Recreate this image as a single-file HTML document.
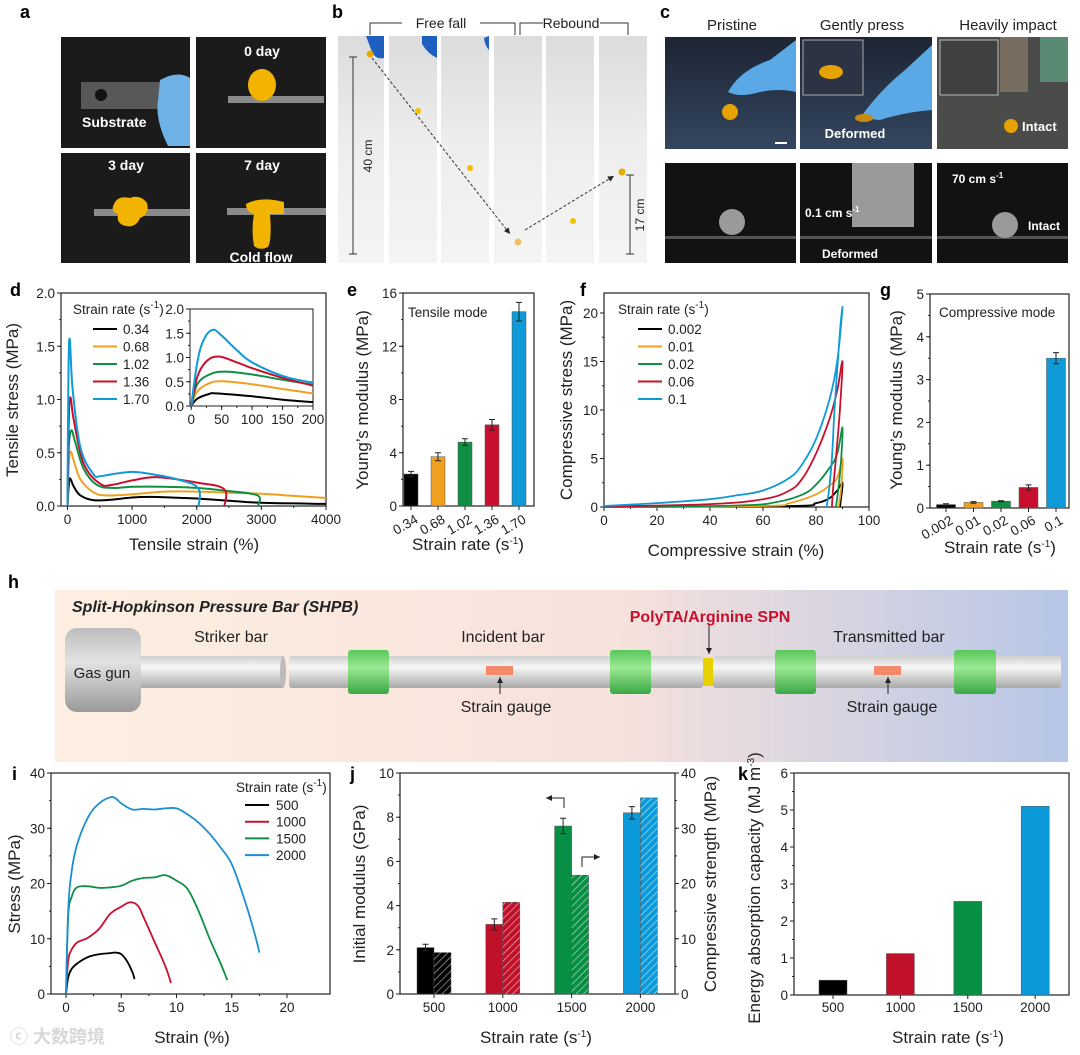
<!DOCTYPE html>
<html><head><meta charset="utf-8"><title>Figure</title>
<style>
html,body{margin:0;padding:0;background:#fff;}
svg{display:block;font-family:"Liberation Sans","Noto Sans CJK SC",sans-serif;}
.pl{font-weight:bold;font-size:18px;fill:#000;}
.tk{font-size:13.5px;fill:#222;}
.at{font-size:17px;fill:#222;}
.wt{font-weight:bold;fill:#fff;}
</style></head>
<body>
<svg id="fig" width="1080" height="1055" viewBox="0 0 1080 1055" xmlns="http://www.w3.org/2000/svg">
<defs>
 <linearGradient id="hbg" x1="0" x2="1" y1="0" y2="0">
  <stop offset="0" stop-color="#fcefe1"/><stop offset="0.55" stop-color="#f8e2dc"/><stop offset="1" stop-color="#b6c6e6"/>
 </linearGradient>
 <linearGradient id="barg" x1="0" x2="0" y1="0" y2="1">
  <stop offset="0" stop-color="#cfcfcf"/><stop offset="0.35" stop-color="#f7f7f7"/><stop offset="1" stop-color="#a9a9a9"/>
 </linearGradient>
 <linearGradient id="gung" x1="0" x2="0" y1="0" y2="1">
  <stop offset="0" stop-color="#bdbdbd"/><stop offset="0.4" stop-color="#e2e2e2"/><stop offset="1" stop-color="#9a9a9a"/>
 </linearGradient>
 <linearGradient id="sleeve" x1="0" x2="0" y1="0" y2="1">
  <stop offset="0" stop-color="#58c85a"/><stop offset="0.4" stop-color="#9be894"/><stop offset="1" stop-color="#3aa844"/>
 </linearGradient>
 <linearGradient id="strip" x1="0" x2="0" y1="0" y2="1">
  <stop offset="0" stop-color="#dcdcdc"/><stop offset="0.5" stop-color="#eeeeee"/><stop offset="1" stop-color="#f4f4f4"/>
 </linearGradient>
 <linearGradient id="navy" x1="0" x2="0" y1="0" y2="1">
  <stop offset="0" stop-color="#1d2433"/><stop offset="1" stop-color="#34465f"/>
 </linearGradient>
 <pattern id="hatch" width="5" height="5" patternUnits="userSpaceOnUse" patternTransform="rotate(45)">
  <line x1="0" y1="0" x2="0" y2="5" stroke="#fff" stroke-width="1.2" opacity="0.75"/>
 </pattern>
 <marker id="ah" markerWidth="8" markerHeight="8" refX="6" refY="3" orient="auto"><path d="M0,0 L6,3 L0,6 z" fill="#222"/></marker>
</defs>

<!-- ===== Panel a ===== -->
<text class="pl" x="20" y="18">a</text>
<g>
 <rect x="61" y="37" width="129" height="111" fill="#1b1b1b"/>
 <rect x="81" y="82" width="95" height="27" fill="#8a8a8a" opacity="0.55"/>
 <circle cx="101" cy="95" r="6" fill="#111"/>
 <path d="M160,80 Q178,70 190,78 L190,146 L168,146 Q155,120 158,100 Z" fill="#6fb2e8"/>
 <text class="wt" x="82" y="127" font-size="14">Substrate</text>

 <rect x="196" y="37" width="130" height="111" fill="#1b1b1b"/>
 <rect x="228" y="96" width="96" height="7" fill="#b9b9b9" opacity="0.7"/>
 <ellipse cx="262" cy="85" rx="14" ry="16" fill="#f2b400"/>
 <text class="wt" x="262" y="56" font-size="14" text-anchor="middle">0 day</text>

 <rect x="61" y="153" width="129" height="110" fill="#1b1b1b"/>
 <rect x="94" y="209" width="96" height="7" fill="#b9b9b9" opacity="0.7"/>
 <path d="M114,204 Q118,195 130,198 Q140,194 147,203 Q150,214 140,218 Q136,228 126,226 Q116,224 118,214 Q110,212 114,204 Z" fill="#f2b400"/>
 <text class="wt" x="126" y="170" font-size="14" text-anchor="middle">3 day</text>

 <rect x="196" y="153" width="130" height="110" fill="#1b1b1b"/>
 <rect x="227" y="208" width="99" height="7" fill="#b9b9b9" opacity="0.7"/>
 <path d="M246,204 Q260,196 284,202 L284,214 L270,214 Q272,240 268,247 Q260,251 254,246 Q251,230 254,214 Q246,212 246,204 Z" fill="#f2b400"/>
 <text class="wt" x="262" y="170" font-size="14" text-anchor="middle">7 day</text>
 <text class="wt" x="261" y="262" font-size="14" text-anchor="middle">Cold flow</text>
</g>

<!-- ===== Panel b ===== -->
<text class="pl" x="332" y="18">b</text>
<g>
 <rect x="338" y="36" width="46" height="227" fill="url(#strip)"/>
 <rect x="389" y="36" width="48" height="227" fill="url(#strip)"/>
 <rect x="441" y="36" width="48" height="227" fill="url(#strip)"/>
 <rect x="494" y="36" width="48" height="227" fill="url(#strip)"/>
 <rect x="546" y="36" width="48" height="227" fill="url(#strip)"/>
 <rect x="599" y="36" width="48" height="227" fill="url(#strip)"/>
 <path d="M366,36 L384,36 L384,58 Q376,60 372,52 Z" fill="#1f5fbf"/>
 <path d="M422,36 L437,36 L437,58 Q428,54 422,44 Z" fill="#1f5fbf"/>
 <path d="M484,38 L489,36 L489,50 Q485,46 484,38 Z" fill="#1f5fbf"/>
 <circle cx="370" cy="54" r="3.5" fill="#e9a800"/>
 <circle cx="418" cy="111" r="3" fill="#f0c000"/>
 <circle cx="470" cy="168" r="3" fill="#f0c000"/>
 <circle cx="518" cy="242" r="3.5" fill="#f0c060"/>
 <circle cx="573" cy="221" r="3" fill="#f0c000"/>
 <circle cx="622" cy="172" r="3.5" fill="#e9a800"/>
 <line x1="372" y1="58" x2="510" y2="234" stroke="#333" stroke-dasharray="3,2" marker-end="url(#ah)"/>
 <line x1="525" y1="230" x2="614" y2="176" stroke="#333" stroke-dasharray="3,2" marker-end="url(#ah)"/>
 <line x1="353" y1="57" x2="353" y2="254" stroke="#333"/>
 <line x1="349" y1="57" x2="357" y2="57" stroke="#333"/><line x1="349" y1="254" x2="357" y2="254" stroke="#333"/>
 <text x="372" y="156" font-size="12" text-anchor="middle" transform="rotate(-90 372 156)" fill="#222">40 cm</text>
 <line x1="630" y1="175" x2="630" y2="254" stroke="#333"/>
 <line x1="626" y1="175" x2="634" y2="175" stroke="#333"/><line x1="626" y1="254" x2="634" y2="254" stroke="#333"/>
 <text x="644" y="215" font-size="12" text-anchor="middle" transform="rotate(-90 644 215)" fill="#222">17 cm</text>
 <path d="M370,35 L370,23 L402,23 M480,23 L515,23 L515,35" fill="none" stroke="#333"/>
 <text x="441" y="28" font-size="14" text-anchor="middle" fill="#222">Free fall</text>
 <path d="M520,35 L520,23 L543,23 M600,23 L628,23 L628,35" fill="none" stroke="#333"/>
 <text x="571" y="28" font-size="14" text-anchor="middle" fill="#222">Rebound</text>
</g>

<!-- ===== Panel c ===== -->
<text class="pl" x="660" y="18">c</text>
<g>
 <text x="732" y="30" font-size="15" text-anchor="middle" fill="#222">Pristine</text>
 <text x="862" y="30" font-size="15" text-anchor="middle" fill="#222">Gently press</text>
 <text x="1008" y="30" font-size="15" text-anchor="middle" fill="#222">Heavily impact</text>
 <rect x="665" y="37" width="131" height="112" fill="url(#navy)"/>
 <path d="M728,92 Q740,70 770,60 L796,40 L796,92 Q780,88 760,92 Q740,98 728,92 Z" fill="#5aa9e6"/>
 <circle cx="730" cy="112" r="8" fill="#e5a200"/>
 <rect x="775" y="142" width="12" height="2" fill="#fff"/>
 <rect x="800" y="37" width="132" height="112" fill="url(#navy)"/>
 <rect x="803" y="40" width="60" height="55" fill="#2c3444" stroke="#aaa"/>
 <ellipse cx="831" cy="72" rx="12" ry="7" fill="#e5a200"/>
 <path d="M860,118 Q880,90 905,70 L932,45 L932,110 Q905,112 880,120 Z" fill="#5aa9e6"/>
 <ellipse cx="864" cy="118" rx="9" ry="4" fill="#c88a10"/>
 <text class="wt" x="855" y="138" font-size="13" text-anchor="middle">Deformed</text>
 <rect x="937" y="37" width="131" height="112" fill="#4b4b49"/>
 <rect x="940" y="40" width="58" height="55" fill="#3f4140" stroke="#bbb"/>
 <rect x="1000" y="37" width="28" height="55" fill="#8b7c6c" opacity="0.7"/>
 <rect x="1040" y="37" width="28" height="45" fill="#5c9b80" opacity="0.8"/>
 <circle cx="1011" cy="126" r="7" fill="#e5a200"/>
 <text class="wt" x="1022" y="131" font-size="13">Intact</text>
 <rect x="665" y="163" width="131" height="100" fill="#121212"/>
 <rect x="665" y="236" width="131" height="3" fill="#555"/>
 <circle cx="732" cy="222" r="13" fill="#9a9a9a"/>
 <rect x="800" y="163" width="132" height="100" fill="#121212"/>
 <rect x="852" y="163" width="62" height="64" fill="#9a9a9a"/>
 <rect x="800" y="236" width="132" height="3" fill="#555"/>
 <text class="wt" x="805" y="217" font-size="12">0.1 cm s<tspan font-size="8" dy="-5">-1</tspan></text>
 <text class="wt" x="850" y="258" font-size="12" text-anchor="middle">Deformed</text>
 <rect x="937" y="163" width="131" height="100" fill="#121212"/>
 <rect x="937" y="236" width="131" height="3" fill="#555"/>
 <circle cx="1005" cy="225" r="13" fill="#9a9a9a"/>
 <text class="wt" x="952" y="183" font-size="12">70 cm s<tspan font-size="8" dy="-5">-1</tspan></text>
 <text class="wt" x="1028" y="230" font-size="12">Intact</text>
</g>

<!-- ===== Panel h ===== -->
<text class="pl" x="8" y="588">h</text>
<g>
 <rect x="55" y="590" width="1013" height="172" fill="url(#hbg)"/>
 <text x="72" y="612" font-size="16" font-weight="bold" font-style="italic" fill="#222">Split-Hopkinson Pressure Bar (SHPB)</text>
 <rect x="141" y="656" width="142" height="32" fill="url(#barg)"/>
 <ellipse cx="283" cy="672" rx="3" ry="16" fill="#bbb"/>
 <rect x="65" y="628" width="76" height="84" rx="12" fill="url(#gung)"/>
 <text x="102" y="678" font-size="15" text-anchor="middle" fill="#222">Gas gun</text>
 <rect x="289" y="656" width="414" height="32" rx="3" fill="url(#barg)"/>
 <rect x="703" y="658" width="10" height="28" fill="#e8d000"/>
 <rect x="713" y="656" width="348" height="32" rx="3" fill="url(#barg)"/>
 <rect x="348" y="650" width="41" height="44" rx="3" fill="url(#sleeve)"/>
 <rect x="610" y="650" width="41" height="44" rx="3" fill="url(#sleeve)"/>
 <rect x="775" y="650" width="41" height="44" rx="3" fill="url(#sleeve)"/>
 <rect x="954" y="650" width="42" height="44" rx="3" fill="url(#sleeve)"/>
 <rect x="486" y="666" width="27" height="9" fill="#f48a6a"/>
 <rect x="874" y="666" width="27" height="9" fill="#f48a6a"/>
 <line x1="500" y1="694" x2="500" y2="677" stroke="#222" marker-end="url(#ah)"/>
 <line x1="888" y1="694" x2="888" y2="677" stroke="#222" marker-end="url(#ah)"/>
 <line x1="709" y1="625" x2="709" y2="654" stroke="#222" marker-end="url(#ah)"/>
 <text x="231" y="642" font-size="16" text-anchor="middle" fill="#222">Striker bar</text>
 <text x="503" y="642" font-size="16" text-anchor="middle" fill="#222">Incident bar</text>
 <text x="889" y="642" font-size="16" text-anchor="middle" fill="#222">Transmitted bar</text>
 <text x="506" y="712" font-size="16" text-anchor="middle" fill="#222">Strain gauge</text>
 <text x="892" y="712" font-size="16" text-anchor="middle" fill="#222">Strain gauge</text>
 <text x="710" y="622" font-size="16" font-weight="bold" text-anchor="middle" fill="#c8102e">PolyTA/Arginine SPN</text>
</g>

<!-- chart panel labels -->
<text class="pl" x="10" y="296">d</text>
<text class="pl" x="347" y="296">e</text>
<text class="pl" x="580" y="296">f</text>
<text class="pl" x="880" y="296">g</text>
<text class="pl" x="12" y="780">i</text>
<text class="pl" x="350" y="780">j</text>
<text class="pl" x="738" y="780">k</text>
<text x="10" y="1043" font-size="18" font-weight="bold" fill="#d8d8d8">ⓒ 大数跨境</text>

<g id="charts"></g>
</svg>

<script>
// ---------------- DATA ----------------
const colors = ['#000000', '#f0a01e', '#0e8f44', '#c8102e', '#0f9ad8'];

// d: tensile stress-strain (strain %, stress MPa)
const dRates = ['0.34', '0.68', '1.02', '1.36', '1.70'];
const d034 = [[0,0],[20,0.2],[40,0.26],[100,0.18],[200,0.1],[400,0.055],[700,0.06],[1000,0.08],[1300,0.085],[1600,0.08],[2000,0.07],[2500,0.05],[3000,0.03],[4000,0.02]];
const d068 = [[0,0],[20,0.4],[50,0.51],[100,0.42],[200,0.25],[400,0.13],[600,0.1],[1000,0.11],[1500,0.135],[2000,0.135],[2500,0.125],[3000,0.115],[3500,0.095],[4000,0.075]];
const d102 = [[0,0],[20,0.55],[60,0.71],[120,0.6],[250,0.35],[450,0.2],[700,0.17],[1000,0.18],[1500,0.18],[2000,0.17],[2500,0.14],[2940,0.1],[2950,0]];
const d136 = [[0,0],[20,0.8],[45,1.02],[100,0.8],[250,0.4],[500,0.21],[700,0.2],[1000,0.24],[1400,0.27],[2000,0.22],[2420,0.16],[2430,0]];
const d170 = [[0,0],[15,1.2],[35,1.57],[80,1.1],[200,0.55],[400,0.3],[500,0.28],[700,0.3],[1000,0.32],[1300,0.3],[1700,0.25],[2020,0.17],[2030,0]];
const dInset034 = [[0,0],[10,0.15],[30,0.25],[40,0.26],[100,0.2],[150,0.13],[200,0.08]];
const dInset068 = [[0,0],[10,0.3],[30,0.47],[50,0.51],[100,0.45],[150,0.35],[200,0.26]];
const dInset102 = [[0,0],[10,0.45],[30,0.65],[55,0.71],[100,0.65],[150,0.54],[200,0.44]];
const dInset136 = [[0,0],[10,0.6],[25,0.92],[45,1.02],[75,0.9],[100,0.78],[150,0.58],[200,0.42]];
const dInset170 = [[0,0],[10,0.9],[20,1.35],[35,1.57],[50,1.45],[75,1.15],[100,0.9],[150,0.62],[200,0.48]];
const dXTicks = [0, 1000, 2000, 3000, 4000];
const dYTicks = ['0.0', '0.5', '1.0', '1.5', '2.0'];
const dInsetXTicks = [0, 50, 100, 150, 200];
const dInsetYTicks = ['0.0', '0.5', '1.0', '1.5', '2.0'];

// e: tensile Young's modulus
const eModulus = [2.4, 3.7, 4.8, 6.1, 14.6];
const eError = [0.2, 0.3, 0.25, 0.4, 0.7];
const eYTicks = [0, 4, 8, 12, 16];

// f: compressive stress-strain loops
const fRates = ['0.002', '0.01', '0.02', '0.06', '0.1'];
const f0002 = [[0,0],[70,0.1],[80,0.4],[85,0.9],[88,1.7],[90,2.5],[89.5,1],[89,0]];
const f001 = [[0,0],[60,0.1],[70,0.4],[80,1.3],[85,2.2],[88,3],[90,5],[89.5,2],[88.5,0]];
const f002 = [[0,0],[50,0.15],[65,0.5],[75,1.3],[80,2.3],[85,4],[88,5.5],[90,8.2],[89.5,5],[88.5,2],[87.5,0]];
const f006 = [[0,0.05],[40,0.3],[60,0.8],[70,1.7],[75,3],[80,5.5],[85,9],[88,12],[90,15],[89,10],[87.5,5],[86.5,2],[86,0]];
const f01 = [[0,0.1],[20,0.4],[40,0.8],[50,1.2],[60,1.7],[70,3],[75,4.5],[80,7],[85,11],[88,15],[90,20.5],[89,18],[87,10],[86,5],[85,2],[84,0]];
const fXTicks = [0, 20, 40, 60, 80, 100];
const fYTicks = [0, 5, 10, 15, 20];

// g: compressive Young's modulus
const gRates = ['0.002', '0.01', '0.02', '0.06', '0.1'];
const gModulus = [0.08, 0.13, 0.16, 0.48, 3.5];
const gError = [0.02, 0.02, 0.01, 0.06, 0.13];
const gYTicks = [0, 1, 2, 3, 4, 5];

// i: SHPB stress-strain
const iRates = ['500', '1000', '1500', '2000'];
const i500 = [[0,0],[0.2,3],[0.5,4.5],[1,5.5],[2,6.7],[3,7.2],[4,7.4],[4.5,7.5],[5,7.2],[5.5,6],[6,4],[6.2,2.7]];
const i1000 = [[0,0],[0.2,6],[0.5,8],[1,9.3],[2,10.2],[3,11.8],[4,14.5],[5,15.8],[5.8,16.6],[6.5,16],[7,14],[8,9.5],[9,5],[9.5,2]];
const i1500 = [[0,0],[0.2,14],[0.5,17.5],[1,19.3],[2,19.5],[3,19.2],[4,19.3],[5,19.6],[6,20.5],[7,21],[8,21.1],[9,21.5],[10,20.5],[11,19],[12,15],[13,10],[14,5.5],[14.6,2.5]];
const i2000 = [[0,0],[0.2,15],[0.5,22],[1,27],[2,32],[3,34.5],[4,35.6],[4.5,35.4],[5,34.5],[6,33.4],[7,33.5],[8,33.4],[9,33.6],[10,33.6],[11,32.5],[12,31],[13,29],[14,26.5],[15,23.5],[16,18],[17,11.5],[17.5,7.5]];
const iXTicks = [0, 5, 10, 15, 20];
const iYTicks = [0, 10, 20, 30, 40];
const iColors = ['#000000', '#c8102e', '#0e8f44', '#1c8fd0'];

// j: initial modulus (GPa, left) and compressive strength (MPa, right)
const jRates = ['500', '1000', '1500', '2000'];
const jModulus = [2.1, 3.15, 7.6, 8.2];
const jModulusErr = [0.15, 0.25, 0.35, 0.28];
const jStrength = [7.5, 16.6, 21.5, 35.5];
const jLeftTicks = [0, 2, 4, 6, 8, 10];
const jRightTicks = [0, 10, 20, 30, 40];
const jColors = ['#000000', '#c0102a', '#078f45', '#0a9ad9'];

// k: energy absorption capacity
const kRates = ['500', '1000', '1500', '2000'];
const kEnergy = [0.4, 1.12, 2.53, 5.1];
const kYTicks = [0, 1, 2, 3, 4, 5, 6];

// ---------------- HELPERS ----------------
const NS = 'http://www.w3.org/2000/svg';
const root = document.getElementById('charts');
function mk(tag, attrs, name, parent) {
  const el = document.createElementNS(NS, tag);
  for (const k in attrs) el.setAttribute(k, attrs[k]);
  
  
  (parent || root).appendChild(el);
  return el;
}
function lin(d0, d1, r0, r1) { return v => r0 + (v - d0) / (d1 - d0) * (r1 - r0); }
function txt(x, y, s, cls, name, anchor, extra) {
  const t = mk('text', Object.assign({x: x, y: y, class: cls, 'text-anchor': anchor || 'middle'}, extra || {}), name);
  t.innerHTML = s;
  return t;
}
const SUP = '<tspan font-size="10" dy="-6">-1</tspan><tspan dy="6">)</tspan>';
function frame(x0, y0, x1, y1, name) {
  mk('rect', {x: x0, y: y0, width: x1 - x0, height: y1 - y0, fill: 'none', stroke: '#222', 'stroke-width': 1.2}, name);
}
function yAxis(ticks, labels, Y, x, name, side, minorStep, fs) {
  const dir = side === 'right' ? 1 : -1;
  ticks.forEach((v, i) => {
    mk('line', {x1: x, x2: x + dir * 4, y1: Y(v), y2: Y(v), stroke: '#222'}, name + '-tick');
    txt(x + dir * 6, Y(v) + 5, labels[i], 'tk', name + '-label', side === 'right' ? 'start' : 'end', fs ? {'font-size': fs} : null);
  });
  if (minorStep) {
    for (let v = ticks[0]; v <= ticks[ticks.length - 1] + 1e-9; v += minorStep) {
      mk('line', {x1: x, x2: x + dir * 2, y1: Y(v), y2: Y(v), stroke: '#222'}, name + '-minor-tick');
    }
  }
}
function xAxis(ticks, labels, X, y, name, minorStep, fs) {
  ticks.forEach((v, i) => {
    mk('line', {x1: X(v), x2: X(v), y1: y, y2: y + 4, stroke: '#222'}, name + '-tick');
    txt(X(v), y + 18, labels[i], 'tk', name + '-label', 'middle', fs ? {'font-size': fs} : null);
  });
  if (minorStep) {
    for (let v = ticks[0]; v <= ticks[ticks.length - 1] + 1e-9; v += minorStep) {
      mk('line', {x1: X(v), x2: X(v), y1: y, y2: y + 2, stroke: '#222'}, name + '-minor-tick');
    }
  }
}
function smoothPath(pts, X, Y) {
  const p = pts.map(q => [X(q[0]), Y(q[1])]);
  let d = 'M' + p[0][0].toFixed(1) + ',' + p[0][1].toFixed(1);
  for (let i = 0; i < p.length - 1; i++) {
    const p0 = p[i - 1] || p[i], p1 = p[i], p2 = p[i + 1], p3 = p[i + 2] || p2;
    const t = 0.18;
    const c1 = [p1[0] + (p2[0] - p0[0]) * t, p1[1] + (p2[1] - p0[1]) * t];
    const c2 = [p2[0] - (p3[0] - p1[0]) * t, p2[1] - (p3[1] - p1[1]) * t];
    d += ' C' + c1[0].toFixed(1) + ',' + c1[1].toFixed(1) + ' ' + c2[0].toFixed(1) + ',' + c2[1].toFixed(1) + ' ' + p2[0].toFixed(1) + ',' + p2[1].toFixed(1);
  }
  return d;
}
function yTitle(x, y, s, name, fs) {
  txt(x, y, s, 'at', name, 'middle', {transform: 'rotate(-90 ' + x + ' ' + y + ')', 'font-size': fs || 17});
}
function legend(x, y, title, names, cols, name, fs, gap) {
  txt(x, y, title, 'tk', name + '-title', 'start', {'font-size': fs + 1});
  names.forEach((n, i) => {
    const yy = y + 19 + i * gap;
    mk('line', {x1: x + 20, x2: x + 44, y1: yy - 4, y2: yy - 4, stroke: cols[i], 'stroke-width': 2}, name + '-swatch');
    txt(x + 50, yy + 1, n, 'tk', name + '-entry', 'start', {'font-size': fs + 1});
  });
}

// ---------------- PANEL d ----------------
(function () {
  const X = lin(-100, 4000, 61, 326), Y = lin(0, 2, 506, 293);
  frame(61, 293, 326, 506, 'd-plot-frame');
  xAxis(dXTicks, dXTicks.map(String), X, 506, 'd-x-axis', 500);
  yAxis([0, 0.5, 1, 1.5, 2], dYTicks, Y, 61, 'd-y-axis', 'left', 0.25);
  [d034, d068, d102, d136, d170].forEach((s, i) => {
    mk('path', {d: smoothPath(s, X, Y), fill: 'none', stroke: colors[i], 'stroke-width': 2}, 'd-curve-' + dRates[i]);
  });
  txt(194, 550, 'Tensile strain (%)', 'at', 'd-x-title');
  yTitle(18, 400, 'Tensile stress (MPa)', 'd-y-title');
  legend(73, 314, 'Strain rate (s' + SUP, dRates, colors, 'd-legend', 13, 17.5);
  const XI = lin(-2, 200, 190, 313), YI = lin(0, 2, 406, 309);
  mk('rect', {x: 190, y: 309, width: 123, height: 97, fill: '#fff', stroke: '#222'}, 'd-inset-frame');
  xAxis(dInsetXTicks, dInsetXTicks.map(String), XI, 406, 'd-inset-x-axis', 25, 10.5);
  yAxis([0, 0.5, 1, 1.5, 2], dInsetYTicks, YI, 190, 'd-inset-y-axis', 'left', 0.25, 10.5);
  [dInset034, dInset068, dInset102, dInset136, dInset170].forEach((s, i) => {
    mk('path', {d: smoothPath(s, XI, YI), fill: 'none', stroke: colors[i], 'stroke-width': 2}, 'd-inset-curve-' + dRates[i]);
  });
})();

// ---------------- PANEL e ----------------
(function () {
  const Y = lin(0, 16, 506, 293);
  const cx = i => 411 + i * 27;
  frame(403, 293, 534, 506, 'e-plot-frame');
  yAxis(eYTicks, eYTicks.map(String), Y, 403, 'e-y-axis', 'left', 2);
  eModulus.forEach((v, i) => {
    mk('rect', {x: cx(i) - 7, y: Y(v), width: 14, height: Y(0) - Y(v), fill: colors[i], stroke: '#555', 'stroke-width': 0.5}, 'e-bar-' + dRates[i]);
    const e = eError[i];
    mk('path', {d: 'M' + cx(i) + ',' + Y(v - e) + ' V' + Y(v + e) + ' M' + (cx(i) - 3) + ',' + Y(v + e) + ' h6 M' + (cx(i) - 3) + ',' + Y(v - e) + ' h6', stroke: '#222', fill: 'none'}, 'e-error-bar');
    mk('line', {x1: cx(i), x2: cx(i), y1: 506, y2: 510, stroke: '#222'}, 'e-x-tick');
    txt(cx(i) + 8, 522, dRates[i], 'tk', 'e-x-label', 'end', {transform: 'rotate(-30 ' + (cx(i) + 8) + ' 522)'});
  });
  txt(408, 317, 'Tensile mode', 'tk', 'e-mode-label', 'start', {'font-size': 14});
  txt(468, 550, 'Strain rate (s' + SUP, 'at', 'e-x-title');
  yTitle(368, 400, 'Young\u2019s modulus (MPa)', 'e-y-title');
})();

// ---------------- PANEL f ----------------
(function () {
  const X = lin(0, 100, 604, 869), Y = lin(0, 22.06, 507, 293);
  frame(604, 293, 869, 507, 'f-plot-frame');
  xAxis(fXTicks, fXTicks.map(String), X, 507, 'f-x-axis', 10);
  yAxis(fYTicks, fYTicks.map(String), Y, 604, 'f-y-axis', 'left', 2.5);
  [f0002, f001, f002, f006, f01].forEach((s, i) => {
    mk('path', {d: smoothPath(s, X, Y), fill: 'none', stroke: colors[i], 'stroke-width': 1.8}, 'f-curve-' + fRates[i]);
  });
  legend(618, 314, 'Strain rate (s' + SUP, fRates, colors, 'f-legend', 13, 17.5);
  txt(736, 556, 'Compressive strain (%)', 'at', 'f-x-title');
  yTitle(572, 400, 'Compressive stress (MPa)', 'f-y-title');
})();

// ---------------- PANEL g ----------------
(function () {
  const Y = lin(0, 5, 508, 294);
  const cx = i => 946 + i * 27.5;
  frame(930, 294, 1069, 508, 'g-plot-frame');
  yAxis(gYTicks, gYTicks.map(String), Y, 930, 'g-y-axis', 'left', 0.5);
  gModulus.forEach((v, i) => {
    mk('rect', {x: cx(i) - 9.5, y: Y(v), width: 19, height: Y(0) - Y(v), fill: colors[i], stroke: '#555', 'stroke-width': 0.5}, 'g-bar-' + gRates[i]);
    const e = gError[i];
    mk('path', {d: 'M' + cx(i) + ',' + Y(v - e) + ' V' + Y(v + e) + ' M' + (cx(i) - 3) + ',' + Y(v + e) + ' h6 M' + (cx(i) - 3) + ',' + Y(v - e) + ' h6', stroke: '#222', fill: 'none'}, 'g-error-bar');
    mk('line', {x1: cx(i), x2: cx(i), y1: 508, y2: 512, stroke: '#222'}, 'g-x-tick');
    txt(cx(i) + 8, 523, gRates[i], 'tk', 'g-x-label', 'end', {transform: 'rotate(-30 ' + (cx(i) + 8) + ' 523)'});
  });
  txt(939, 317, 'Compressive mode', 'tk', 'g-mode-label', 'start', {'font-size': 13.5});
  txt(1000, 553, 'Strain rate (s' + SUP, 'at', 'g-x-title');
  yTitle(902, 400, 'Young\u2019s modulus (MPa)', 'g-y-title');
})();

// ---------------- PANEL i ----------------
(function () {
  const X = lin(0, 20, 66, 287), Y = lin(0, 40, 994, 773);
  frame(51, 773, 330, 994, 'i-plot-frame');
  xAxis(iXTicks, iXTicks.map(String), X, 994, 'i-x-axis', 2.5, 14);
  yAxis(iYTicks, iYTicks.map(String), Y, 51, 'i-y-axis', 'left', 5, 14);
  [i500, i1000, i1500, i2000].forEach((s, i) => {
    mk('path', {d: smoothPath(s, X, Y), fill: 'none', stroke: iColors[i], 'stroke-width': 1.8}, 'i-curve-' + iRates[i]);
  });
  txt(236, 792, 'Strain rate (s' + SUP, 'tk', 'i-legend-title', 'start', {'font-size': 12.5});
  iRates.forEach((n, i) => {
    const yy = 805 + i * 16.7;
    mk('line', {x1: 245, x2: 269, y1: yy, y2: yy, stroke: iColors[i], 'stroke-width': 2}, 'i-legend-swatch');
    txt(276, yy + 5, n, 'tk', 'i-legend-entry', 'start', {'font-size': 13.5});
  });
  txt(192, 1043, 'Strain (%)', 'at', 'i-x-title', 'middle', {'font-size': 17});
  yTitle(20, 884, 'Stress (MPa)', 'i-y-title', 17);
})();

// ---------------- PANEL j ----------------
(function () {
  const YL = lin(0, 10, 994, 773), YR = lin(0, 40, 994, 773);
  const cx = i => 434 + i * 68.8;
  frame(400, 773, 675, 994, 'j-plot-frame');
  yAxis(jLeftTicks, jLeftTicks.map(String), YL, 400, 'j-left-y-axis', 'left', 1, 14);
  yAxis(jRightTicks, jRightTicks.map(String), YR, 675, 'j-right-y-axis', 'right', 5, 14);
  jModulus.forEach((v, i) => {
    mk('rect', {x: cx(i) - 17, y: YL(v), width: 17, height: YL(0) - YL(v), fill: jColors[i], stroke: '#555', 'stroke-width': 0.5}, 'j-modulus-bar-' + jRates[i]);
    const e = jModulusErr[i];
    mk('path', {d: 'M' + (cx(i) - 8.5) + ',' + YL(v - e) + ' V' + YL(v + e) + ' M' + (cx(i) - 11.5) + ',' + YL(v + e) + ' h6 M' + (cx(i) - 11.5) + ',' + YL(v - e) + ' h6', stroke: '#222', fill: 'none'}, 'j-error-bar');
    mk('rect', {x: cx(i), y: YR(jStrength[i]), width: 17, height: YR(0) - YR(jStrength[i]), fill: jColors[i], stroke: '#555', 'stroke-width': 0.5}, 'j-strength-bar-' + jRates[i]);
    mk('rect', {x: cx(i), y: YR(jStrength[i]), width: 17, height: YR(0) - YR(jStrength[i]), fill: 'url(#hatch)'}, 'j-strength-hatch');
    mk('line', {x1: cx(i), x2: cx(i), y1: 994, y2: 998, stroke: '#222'}, 'j-x-tick');
    txt(cx(i), 1012, jRates[i], 'tk', 'j-x-label', 'middle', {'font-size': 14});
  });
  mk('path', {d: 'M564,808 V798 H546', fill: 'none', stroke: '#222', 'marker-end': 'url(#ah)'}, 'j-left-axis-arrow');
  mk('path', {d: 'M582,867 V857 H600', fill: 'none', stroke: '#222', 'marker-end': 'url(#ah)'}, 'j-right-axis-arrow');
  txt(536, 1043, 'Strain rate (s' + SUP, 'at', 'j-x-title', 'middle', {'font-size': 17});
  yTitle(365, 884, 'Initial modulus (GPa)', 'j-left-y-title', 17);
  yTitle(716, 884, 'Compressive strength (MPa)', 'j-right-y-title', 17);
})();

// ---------------- PANEL k ----------------
(function () {
  const Y = lin(0, 6, 995, 773);
  const cx = i => 833 + i * 67.4;
  frame(794, 773, 1069, 995, 'k-plot-frame');
  yAxis(kYTicks, kYTicks.map(String), Y, 794, 'k-y-axis', 'left', 0.5, 14);
  kEnergy.forEach((v, i) => {
    mk('rect', {x: cx(i) - 14, y: Y(v), width: 28, height: Y(0) - Y(v), fill: jColors[i], stroke: '#555', 'stroke-width': 0.5}, 'k-bar-' + kRates[i]);
    mk('line', {x1: cx(i), x2: cx(i), y1: 995, y2: 999, stroke: '#222'}, 'k-x-tick');
    txt(cx(i), 1012, kRates[i], 'tk', 'k-x-label', 'middle', {'font-size': 14});
  });
  txt(948, 1043, 'Strain rate (s' + SUP, 'at', 'k-x-title', 'middle', {'font-size': 17});
  yTitle(760, 888, 'Energy absorption capacity (MJ m<tspan font-size="10" dy="-6">-3</tspan><tspan dy="6">)</tspan>', 'k-y-title', 14.5);
})();
</script>
</body></html>
